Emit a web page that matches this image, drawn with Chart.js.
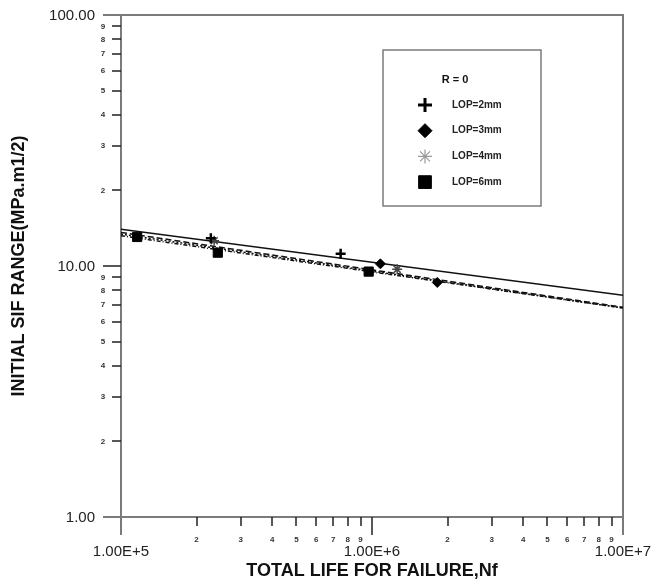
<!DOCTYPE html>
<html>
<head>
    <title>Initial SIF Range vs Total Life</title>
    <script src="https://cdn.jsdelivr.net/npm/chart.js"></script>
    <style>
        body {
            margin: 0;
            background: #fff;
        }

        canvas {
            display: block;
        }
    </style>
</head>
<body>
<canvas id="lifeChart" width="653" height="582"></canvas>
<script>
    // test results: total life Nf and initial SIF range for each LOP
    const lop2Life = [2.28e5, 7.5e5];
    const lop2Sif = [12.9, 11.2];
    const lop3Life = [1.08e6, 1.82e6];
    const lop3Sif = [10.2, 8.6];
    const lop4Life = [2.35e5, 1.26e6];
    const lop4Sif = [12.6, 9.7];
    const lop6Life = [1.16e5, 2.43e5, 9.7e5];
    const lop6Sif = [13.05, 11.3, 9.5];

    // power-law fits, taken at both ends of the life axis
    const fitLife = [1e5, 1e7];
    const fit2Sif = [14.0, 7.65];
    const fit3Sif = [13.6, 6.85];
    const fit4Sif = [13.4, 6.8];
    const fit6Sif = [13.2, 6.8];

    const seriesLabels = ['LOP=2mm', 'LOP=3mm', 'LOP=4mm', 'LOP=6mm'];
    const legendTitle = 'R = 0';

    const xMajorTicks = [1e5, 1e6, 1e7];
    const xMajorLabels = ['1.00E+5', '1.00E+6', '1.00E+7'];
    const yMajorTicks = [1, 10, 100];
    const yMajorLabels = ['1.00', '10.00', '100.00'];
    const minorDigits = [2, 3, 4, 5, 6, 7, 8, 9];

    const xTitle = 'TOTAL LIFE FOR FAILURE,Nf';
    const yTitle = 'INITIAL SIF RANGE(MPa.m1/2)';

    const fontFamily = 'Arial, "Liberation Sans", sans-serif';

    const toPoints = (xs, ys) => xs.map((x, i) => ({x: x, y: ys[i]}));

    // frame, ticks and labels in the old plotting-package look
    const logFrame = {
        id: 'logFrame',
        beforeDatasetsDraw(chart) {
            const ctx = chart.ctx;
            const area = chart.chartArea;
            const xScale = chart.scales.x;
            const yScale = chart.scales.y;
            const major = 18;
            const minor = 9;
            ctx.save();

            // box; left and bottom edges run past the corner as the end ticks
            ctx.strokeStyle = '#7b7b7b';
            ctx.lineWidth = 2;
            ctx.beginPath();
            ctx.moveTo(area.left - major, area.top);
            ctx.lineTo(area.right, area.top);
            ctx.lineTo(area.right, area.bottom + major);
            ctx.moveTo(area.left, area.top);
            ctx.lineTo(area.left, area.bottom + major);
            ctx.moveTo(area.left - major, area.bottom);
            ctx.lineTo(area.right, area.bottom);
            ctx.stroke();

            ctx.strokeStyle = '#222';
            ctx.lineWidth = 1.5;
            ctx.beginPath();
            xMajorTicks.slice(1, -1).forEach(v => {
                const px = Math.round(xScale.getPixelForValue(v));
                ctx.moveTo(px, area.bottom);
                ctx.lineTo(px, area.bottom + major);
            });
            yMajorTicks.slice(1, -1).forEach(v => {
                const py = Math.round(yScale.getPixelForValue(v));
                ctx.moveTo(area.left - major, py);
                ctx.lineTo(area.left, py);
            });
            xMajorTicks.slice(0, -1).forEach(base => {
                minorDigits.forEach(d => {
                    const px = Math.round(xScale.getPixelForValue(base * d));
                    ctx.moveTo(px, area.bottom);
                    ctx.lineTo(px, area.bottom + minor);
                });
            });
            yMajorTicks.slice(0, -1).forEach(base => {
                minorDigits.forEach(d => {
                    const py = Math.round(yScale.getPixelForValue(base * d));
                    ctx.moveTo(area.left - minor, py);
                    ctx.lineTo(area.left, py);
                });
            });
            ctx.stroke();

            ctx.fillStyle = '#222';
            ctx.textBaseline = 'middle';

            ctx.font = '15px ' + fontFamily;
            ctx.textAlign = 'center';
            xMajorTicks.forEach((v, i) => {
                ctx.fillText(xMajorLabels[i], xScale.getPixelForValue(v), area.bottom + 35);
            });
            ctx.textAlign = 'right';
            yMajorTicks.forEach((v, i) => {
                ctx.fillText(yMajorLabels[i], area.left - 26, yScale.getPixelForValue(v) + 1);
            });

            ctx.font = 'bold 8px ' + fontFamily;
            ctx.fillStyle = '#333';
            ctx.textAlign = 'center';
            xMajorTicks.slice(0, -1).forEach(base => {
                minorDigits.forEach(d => {
                    ctx.fillText(String(d), xScale.getPixelForValue(base * d), area.bottom + 23);
                });
            });
            yMajorTicks.slice(0, -1).forEach(base => {
                minorDigits.forEach(d => {
                    ctx.fillText(String(d), area.left - 18, yScale.getPixelForValue(base * d));
                });
            });

            ctx.fillStyle = '#111';
            ctx.font = 'bold 18px ' + fontFamily;
            ctx.textAlign = 'center';
            ctx.fillText(xTitle, (area.left + area.right) / 2, area.bottom + 54);
            ctx.translate(19, (area.top + area.bottom) / 2);
            ctx.rotate(-Math.PI / 2);
            ctx.fillText(yTitle, 0, 0);
            ctx.restore();
        }
    };

    // boxed legend inside the plot
    const legendBox = {
        id: 'legendBox',
        afterDraw(chart) {
            const ctx = chart.ctx;
            const left = 383, top = 50, width = 158, height = 156;
            ctx.save();
            ctx.strokeStyle = '#7b7b7b';
            ctx.lineWidth = 1.5;
            ctx.strokeRect(left, top, width, height);

            ctx.fillStyle = '#111';
            ctx.font = 'bold 11px ' + fontFamily;
            ctx.textAlign = 'center';
            ctx.textBaseline = 'middle';
            ctx.fillText(legendTitle, left + 72, top + 30);

            ctx.textAlign = 'left';
            ctx.font = 'bold 10px ' + fontFamily;
            chart.data.datasets.filter(ds => ds.legendRadius).forEach((ds, i) => {
                const y = top + 55 + i * 25.7;
                const x = left + 42;
                ctx.fillStyle = ds.legendColor;
                ctx.strokeStyle = ds.legendColor;
                ctx.lineWidth = ds.legendWidth;
                Chart.helpers.drawPoint(ctx, {
                    pointStyle: ds.pointStyle,
                    radius: ds.legendRadius,
                    borderWidth: ds.legendWidth,
                    rotation: 0
                }, x, y);
                ctx.fillStyle = '#222';
                ctx.fillText(ds.label, left + 69, y);
            });
            ctx.restore();
        }
    };

    const fitLine = (sif, dash) => ({
        data: toPoints(fitLife, sif),
        showLine: true,
        borderColor: '#111',
        borderWidth: 1.5,
        borderDash: dash,
        pointRadius: 0,
        order: 2
    });

    const chart = new Chart(document.getElementById('lifeChart'), {
        type: 'scatter',
        data: {
            datasets: [
                {
                    label: seriesLabels[0],
                    data: toPoints(lop2Life, lop2Sif),
                    pointStyle: 'cross',
                    pointRadius: 5,
                    pointBorderWidth: 2.5,
                    borderColor: '#000',
                    backgroundColor: '#000',
                    legendColor: '#000',
                    legendRadius: 7,
                    legendWidth: 3,
                    order: 1
                },
                {
                    label: seriesLabels[1],
                    data: toPoints(lop3Life, lop3Sif),
                    pointStyle: 'rectRot',
                    pointRadius: 5,
                    pointBorderWidth: 1,
                    borderColor: '#000',
                    backgroundColor: '#000',
                    legendColor: '#000',
                    legendRadius: 7,
                    legendWidth: 1,
                    order: 1
                },
                {
                    label: seriesLabels[2],
                    data: toPoints(lop4Life, lop4Sif),
                    pointStyle: 'star',
                    pointRadius: 5,
                    pointBorderWidth: 1.5,
                    borderColor: '#444',
                    backgroundColor: '#444',
                    legendColor: '#9a9a9a',
                    legendRadius: 7,
                    legendWidth: 1.2,
                    order: 1
                },
                {
                    label: seriesLabels[3],
                    data: toPoints(lop6Life, lop6Sif),
                    pointStyle: 'rect',
                    pointRadius: 6.5,
                    pointBorderWidth: 1,
                    borderColor: '#000',
                    backgroundColor: '#000',
                    legendColor: '#000',
                    legendRadius: 9,
                    legendWidth: 1,
                    order: 1
                },
                fitLine(fit2Sif, []),
                fitLine(fit3Sif, [6, 3]),
                fitLine(fit4Sif, [2, 2]),
                fitLine(fit6Sif, [4, 2, 1, 2])
            ]
        },
        options: {
            responsive: false,
            animation: false,
            devicePixelRatio: 1,
            layout: {
                padding: {top: 15, right: 30, left: 0, bottom: 0}
            },
            plugins: {
                legend: {display: false},
                tooltip: {enabled: false}
            },
            scales: {
                x: {
                    type: 'logarithmic',
                    min: 1e5,
                    max: 1e7,
                    ticks: {display: false},
                    grid: {display: false},
                    border: {display: false},
                    afterFit: scale => { scale.height = 65; }
                },
                y: {
                    type: 'logarithmic',
                    min: 1,
                    max: 100,
                    ticks: {display: false},
                    grid: {display: false},
                    border: {display: false},
                    afterFit: scale => { scale.width = 121; }
                }
            }
        },
        plugins: [logFrame, legendBox]
    });
</script>
</body>
</html>
